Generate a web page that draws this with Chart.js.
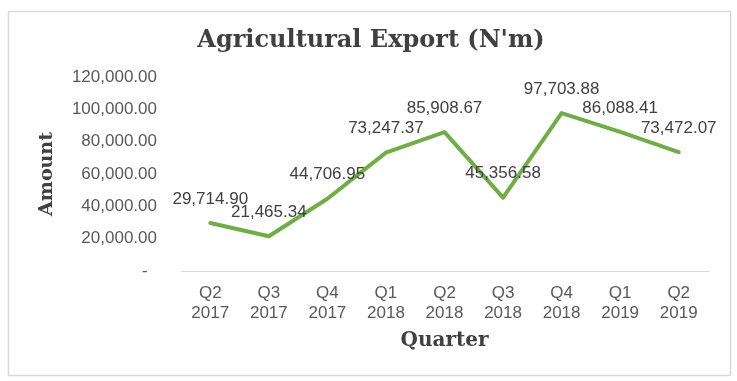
<!DOCTYPE html>
<html><head><meta charset="utf-8">
<script src="https://cdn.jsdelivr.net/npm/chart.js@4/dist/chart.umd.min.js"></script>
<style>html,body{margin:0;padding:0;background:#fff}canvas{display:block}</style>
</head><body>
<canvas id="c" width="737" height="381" style="width:737px;height:381px"></canvas>
<script>
const quarters = ['Q2','Q3','Q4','Q1','Q2','Q3','Q4','Q1','Q2'];
const years = ['2017','2017','2017','2018','2018','2018','2018','2019','2019'];
const exportValues = [29714.90, 21465.34, 44706.95, 73247.37, 85908.67, 45356.58, 97703.88, 86088.41, 73472.07];
const yTicks = [0, 20000, 40000, 60000, 80000, 100000, 120000];
const titleText = "Agricultural Export (N'm)";
const yTitle = 'Amount';
const xTitle = 'Quarter';

const labels = quarters.map((q, i) => [q, years[i]]);
const fmt = v => v.toLocaleString('en-US', {minimumFractionDigits: 2, maximumFractionDigits: 2});

const frame = {
  id: 'frame',
  beforeDraw(chart) {
    const c = chart.ctx;
    c.save();
    c.fillStyle = '#fff';
    c.fillRect(0, 0, chart.width, chart.height);
    c.strokeStyle = '#d9d9d9';
    c.lineWidth = 1.5;
    c.strokeRect(8.5, 11.5, 722, 364);
    c.restore();
  }
};

const dataLabels = {
  id: 'dataLabels',
  afterDatasetsDraw(chart) {
    const c = chart.ctx;
    const meta = chart.getDatasetMeta(0);
    const data = chart.data.datasets[0].data;
    c.save();
    c.font = '17px "Liberation Sans"';
    c.fillStyle = '#404040';
    c.textAlign = 'center';
    c.textBaseline = 'middle';
    meta.data.forEach((pt, i) => {
      c.fillText(fmt(data[i]), pt.x, pt.y - 24);
    });
    c.restore();
  }
};

const tickFont = {family: '"Liberation Sans"', size: 17, lineHeight: 1.2};
const serifBold = size => ({family: '"DejaVu Serif"', size: size, weight: 'bold', lineHeight: 1.2});

new Chart(document.getElementById('c'), {
  type: 'line',
  data: {
    labels: labels,
    datasets: [{
      data: exportValues,
      borderColor: '#70AD47',
      borderWidth: 4,
      borderCapStyle: 'round',
      borderJoinStyle: 'round',
      pointRadius: 0,
      tension: 0,
      fill: false
    }]
  },
  options: {
    responsive: false,
    animation: false,
    devicePixelRatio: 1,
    layout: {padding: {left: 5, right: 0, top: 0, bottom: 0}},
    plugins: {
      legend: {display: false},
      tooltip: {enabled: false},
      title: {
        display: true,
        text: titleText,
        color: '#404040',
        font: serifBold(24),
        padding: {top: 26.6, bottom: 21.6}
      }
    },
    scales: {
      x: {
        offset: true,
        grid: {display: false, drawTicks: false},
        border: {display: true, color: '#d9d9d9', width: 1},
        ticks: {color: '#595959', font: tickFont, padding: 12, maxRotation: 0, autoSkip: false},
        title: {display: true, text: xTitle, color: '#404040', font: serifBold(20), padding: {top: 0, bottom: 28}},
        afterFit(s) { s.height = 110; }
      },
      y: {
        min: 0,
        max: 120000,
        afterBuildTicks(s) { s.ticks = yTicks.map(v => ({value: v})); },
        grid: {display: false, drawTicks: false},
        border: {display: false},
        ticks: {color: '#595959', font: tickFont, padding: 24, callback: v => v === 0 ? '-  ' : fmt(v)},
        title: {display: true, text: yTitle, color: '#404040', font: serifBold(19), padding: {top: 31, bottom: 0}},
        afterFit(s) { s.width = 176; }
      },
      yRight: {
        type: 'linear',
        position: 'right',
        display: true,
        grid: {display: false, drawTicks: false},
        border: {display: false},
        ticks: {display: false},
        afterFit(s) { s.width = 29; }
      }
    }
  },
  plugins: [frame, dataLabels]
});
</script>
</body></html>
